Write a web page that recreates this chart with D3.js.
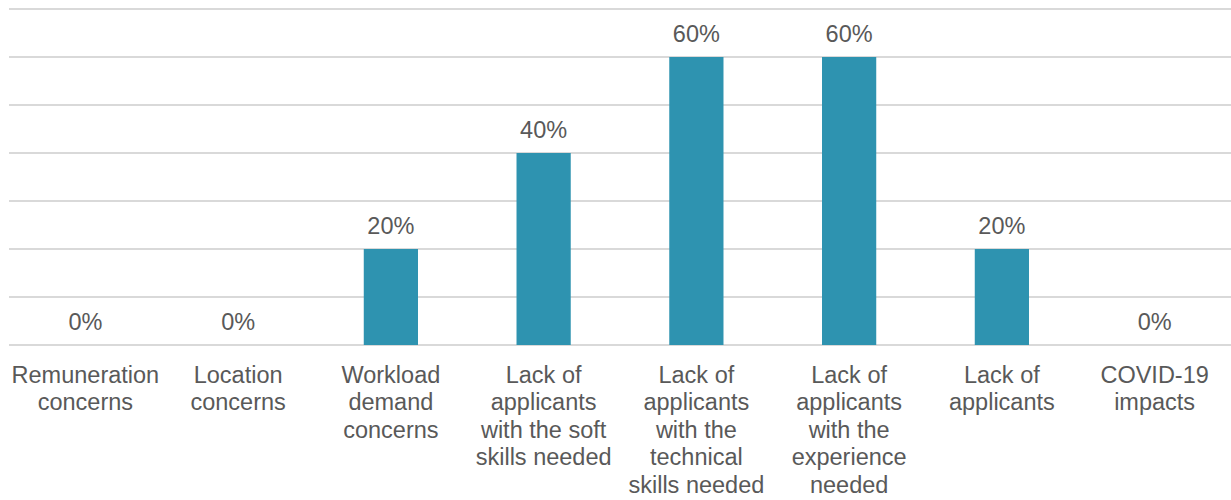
<!DOCTYPE html>
<html>
<head>
<meta charset="utf-8">
<script src="https://cdn.jsdelivr.net/npm/d3@7"></script>
<style>
  body { margin: 0; background: #fff; }
  text { font-family: "Liberation Sans", Arial, sans-serif; fill: #595959; }
</style>
</head>
<body>
<div class="chart"></div>
<script>
// chart data
var categories = [
  "Remuneration\nconcerns",
  "Location\nconcerns",
  "Workload\ndemand\nconcerns",
  "Lack of\napplicants\nwith the soft\nskills needed",
  "Lack of\napplicants\nwith the\ntechnical\nskills needed",
  "Lack of\napplicants\nwith the\nexperience\nneeded",
  "Lack of\napplicants",
  "COVID-19\nimpacts"
];
var values = [0, 0, 0.2, 0.4, 0.6, 0.6, 0.2, 0];
var gridTicks = [0, 0.1, 0.2, 0.3, 0.4, 0.5, 0.6, 0.7];

var svgWidth = 1231;
var svgHeight = 500;

var margin = { top: 9, right: 0, bottom: 155, left: 9 };
var width = svgWidth - margin.left - margin.right;
var height = svgHeight - margin.top - margin.bottom;

var svg = d3.select(".chart")
  .append("svg")
  .attr("width", svgWidth)
  .attr("height", svgHeight);

var chartGroup = svg.append("g")
  .attr("transform", `translate(${margin.left}, ${margin.top})`);

var xScale = d3.scaleBand()
  .domain(categories)
  .range([0, width])
  .paddingInner(0.645)
  .paddingOuter(0.3225);

var yScale = d3.scaleLinear()
  .domain([0, 0.7])
  .range([height, 0]);

// gridlines
chartGroup.selectAll(".grid")
  .data(gridTicks)
  .enter()
  .append("line")
  .attr("x1", 0)
  .attr("x2", width)
  .attr("y1", d => yScale(d))
  .attr("y2", d => yScale(d))
  .style("stroke", "#d9d9d9")
  .style("stroke-width", 2);

// bars
chartGroup.selectAll("rect")
  .data(values)
  .enter()
  .append("rect")
  .attr("x", (d, i) => xScale(categories[i]))
  .attr("y", d => yScale(d))
  .attr("width", xScale.bandwidth())
  .attr("height", d => height - yScale(d))
  .attr("fill", "#2e93b0");

// value labels
chartGroup.selectAll(".value")
  .data(values)
  .enter()
  .append("text")
  .attr("class", "value")
  .attr("x", (d, i) => xScale(categories[i]) + xScale.bandwidth() / 2)
  .attr("y", d => yScale(d) - 15)
  .style("text-anchor", "middle")
  .style("font-size", "23.5px")
  .text(d => d3.format(".0%")(d));

// category labels
var labels = chartGroup.selectAll(".cat")
  .data(categories)
  .enter()
  .append("text")
  .attr("class", "cat")
  .attr("transform", d => `translate(${xScale(d) + xScale.bandwidth() / 2}, ${height + 38})`)
  .style("text-anchor", "middle")
  .style("font-size", "23.5px");

labels.each(function(d) {
  var el = d3.select(this);
  d.split("\n").forEach(function(line, i) {
    el.append("tspan")
      .attr("x", 0)
      .attr("y", i * 27.4)
      .text(line);
  });
});
</script>
</body>
</html>
